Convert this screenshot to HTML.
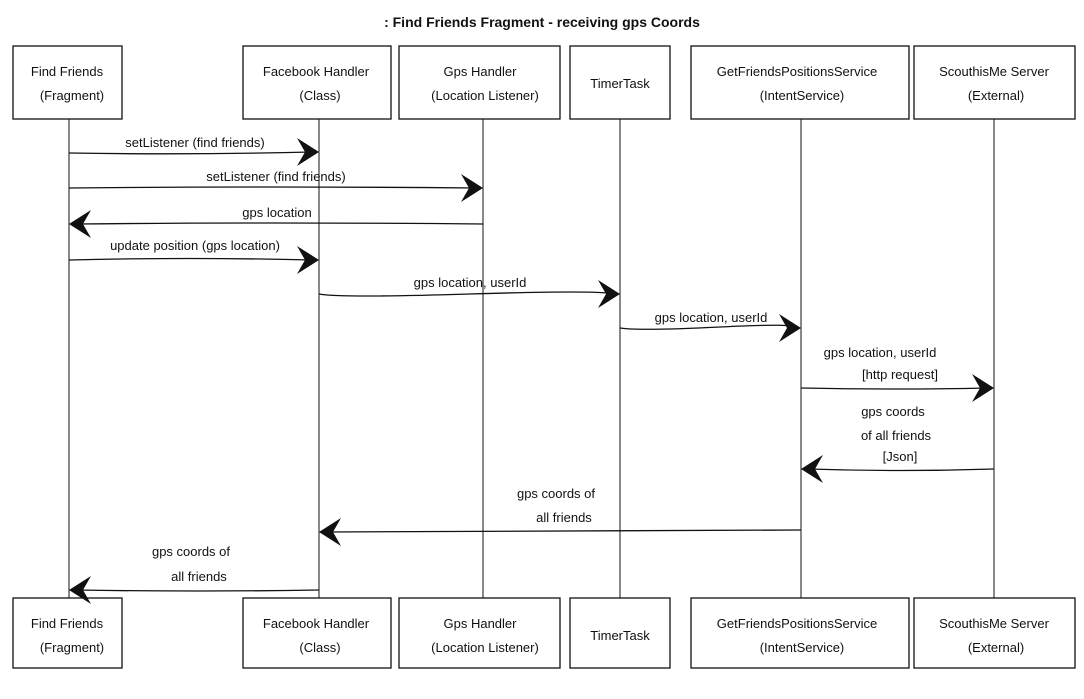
<!DOCTYPE html>
<html><head><meta charset="utf-8"><style>
body{margin:0;background:#fff;}
svg text{font-family:"Liberation Sans",sans-serif;font-size:13px;fill:#111;}
</style></head><body>
<svg width="1084" height="694" viewBox="0 0 1084 694" xmlns="http://www.w3.org/2000/svg">
<rect width="1084" height="694" fill="#fff"/>
<text x="542" y="27" text-anchor="middle" style="font-weight:bold;font-size:14px">: Find Friends Fragment - receiving gps Coords</text>
<g fill="none" stroke="#111" stroke-width="1.3">
<!-- top boxes -->
<rect x="13" y="46" width="109" height="73"/>
<rect x="243" y="46" width="148" height="73"/>
<rect x="399" y="46" width="161" height="73"/>
<rect x="570" y="46" width="100" height="73"/>
<rect x="691" y="46" width="218" height="73"/>
<rect x="914" y="46" width="161" height="73"/>
<!-- bottom boxes -->
<rect x="13" y="598" width="109" height="70"/>
<rect x="243" y="598" width="148" height="70"/>
<rect x="399" y="598" width="161" height="70"/>
<rect x="570" y="598" width="100" height="70"/>
<rect x="691" y="598" width="218" height="70"/>
<rect x="914" y="598" width="161" height="70"/>
</g>
<g stroke="#111" stroke-width="1">
<line x1="69" y1="119" x2="69" y2="598"/>
<line x1="319" y1="119" x2="319" y2="598"/>
<line x1="483" y1="119" x2="483" y2="598"/>
<line x1="620" y1="119" x2="620" y2="598"/>
<line x1="801" y1="119" x2="801" y2="598"/>
<line x1="994" y1="119" x2="994" y2="598"/>
</g>
<g text-anchor="middle">
<text x="67" y="76">Find Friends</text><text x="72" y="100">(Fragment)</text>
<text x="316" y="76">Facebook Handler</text><text x="320" y="100">(Class)</text>
<text x="480" y="76">Gps Handler</text><text x="485" y="100">(Location Listener)</text>
<text x="620" y="88">TimerTask</text>
<text x="797" y="76">GetFriendsPositionsService</text><text x="802" y="100">(IntentService)</text>
<text x="994" y="76">ScouthisMe Server</text><text x="996" y="100">(External)</text>
<text x="67" y="628">Find Friends</text><text x="72" y="652">(Fragment)</text>
<text x="316" y="628">Facebook Handler</text><text x="320" y="652">(Class)</text>
<text x="480" y="628">Gps Handler</text><text x="485" y="652">(Location Listener)</text>
<text x="620" y="640">TimerTask</text>
<text x="797" y="628">GetFriendsPositionsService</text><text x="802" y="652">(IntentService)</text>
<text x="994" y="628">ScouthisMe Server</text><text x="996" y="652">(External)</text>
</g>
<g stroke="#111" stroke-width="1.3" fill="none">
<path d="M69 153 Q190 155 312 152"/>
<path d="M69 188 Q270 186 476 188"/>
<path d="M483 224 Q270 222 76 224"/>
<path d="M69 260 Q190 257 312 260"/>
<path d="M319 294 Q340 298 470 294 T613 294"/>
<path d="M620 328 Q640 331 720 327 T794 328"/>
<path d="M801 388 Q900 390 987 388"/>
<path d="M994 469 Q900 472 808 469"/>
<path d="M801 530 Q600 530 326 532"/>
<path d="M319 590 Q200 592 76 590"/>
</g>
<g fill="#111">
<polygon points="319,152 297,138 305,152 297,166"/>
<polygon points="483,188 461,174 469,188 461,202"/>
<polygon points="69,224 91,210 83,224 91,238"/>
<polygon points="319,260 297,246 305,260 297,274"/>
<polygon points="620,294 598,280 606,294 598,308"/>
<polygon points="801,328 779,314 787,328 779,342"/>
<polygon points="994,388 972,374 980,388 972,402"/>
<polygon points="801,469 823,455 815,469 823,483"/>
<polygon points="319,532 341,518 333,532 341,546"/>
<polygon points="69,590 91,576 83,590 91,604"/>
</g>
<g text-anchor="middle">
<text x="195" y="147">setListener (find friends)</text>
<text x="276" y="181">setListener (find friends)</text>
<text x="277" y="217">gps location</text>
<text x="195" y="250">update position (gps location)</text>
<text x="470" y="287">gps location, userId</text>
<text x="711" y="322">gps location, userId</text>
<text x="880" y="357">gps location, userId</text>
<text x="900" y="379">[http request]</text>
<text x="893" y="416">gps coords</text>
<text x="896" y="440">of all friends</text>
<text x="900" y="461">[Json]</text>
<text x="556" y="498">gps coords of</text>
<text x="564" y="522">all friends</text>
<text x="191" y="556">gps coords of</text>
<text x="199" y="581">all friends</text>
</g>
</svg>
</body></html>
